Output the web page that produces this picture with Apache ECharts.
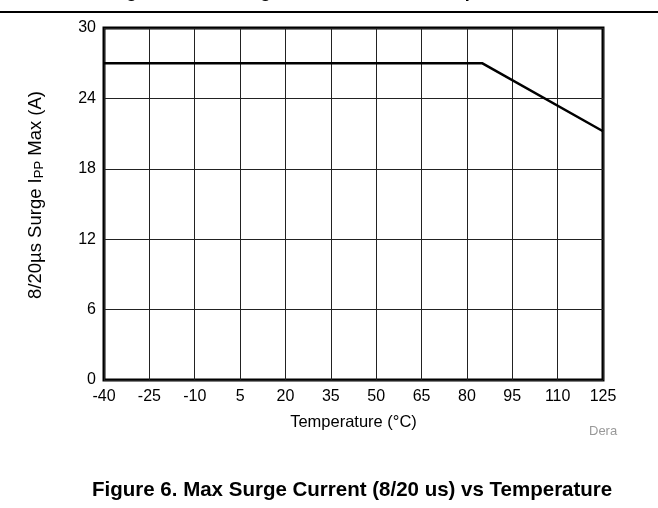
<!DOCTYPE html>
<html>
<head>
<meta charset="utf-8">
<script src="https://cdn.jsdelivr.net/npm/echarts@6/dist/echarts.min.js"></script>
<style>
  html, body { margin: 0; padding: 0; background: #fff; }
  #chart { width: 658px; height: 508px; }
</style>
</head>
<body>
<div id="chart"></div>
<script>
// temperature ticks (°C) and surge current curve
const xTicks = [-40, -25, -10, 5, 20, 35, 50, 65, 80, 95, 110, 125];
const tempPoints = [-40, 85, 125];
const surgeCurrent = [27, 27, 21.2];
const topCaption = 'Figure 5. Max Surge Current Limit vs Temperature';
const bottomCaption = 'Figure 6. Max Surge Current (8/20 us) vs Temperature';

const font = 'Liberation Sans, Arial, sans-serif';
const chart = echarts.init(document.getElementById('chart'));

const option = {
  animation: false,
  backgroundColor: '#fff',
  grid: {
    left: 104, right: 55, top: 28, bottom: 128,
    show: true,
    borderColor: '#000',
    borderWidth: 3
  },
  xAxis: {
    type: 'value',
    min: -40,
    max: 125,
    name: 'Temperature (°C)',
    nameLocation: 'middle',
    nameGap: 34,
    nameTextStyle: { fontFamily: font, fontSize: 16.5, color: '#000' },
    axisLine: { show: false },
    axisTick: { show: false, customValues: xTicks },
    axisLabel: {
      customValues: xTicks,
      margin: 9,
      fontFamily: font, fontSize: 16, color: '#000'
    },
    splitLine: { show: true, lineStyle: { color: '#222', width: 1 } }
  },
  yAxis: {
    type: 'value',
    min: 0,
    max: 30,
    interval: 6,
    name: '8/20µs Surge I{sub|PP} Max (A)',
    nameLocation: 'middle',
    nameGap: 58,
    nameTextStyle: {
      fontFamily: font, fontSize: 18.5, color: '#000',
      padding: [0, 0, 0, 18],
      rich: {
        sub: { fontFamily: font, fontSize: 13, color: '#000', verticalAlign: 'bottom', padding: [7, 0, 0, 0] }
      }
    },
    axisLine: { show: false },
    axisTick: { show: false },
    axisLabel: { margin: 8, fontFamily: font, fontSize: 16, color: '#000' },
    splitLine: { show: true, lineStyle: { color: '#222', width: 1 } }
  },
  series: [{
    type: 'line',
    data: tempPoints.map((t, i) => [t, surgeCurrent[i]]),
    showSymbol: false,
    lineStyle: { color: '#000', width: 2.5 },
    z: 5
  }],
  graphic: [
    {
      type: 'text', x: 110, y: 1,
      style: { text: topCaption, font: 'bold 18px ' + font, fill: '#000', verticalAlign: 'bottom' }
    },
    {
      type: 'line',
      shape: { x1: 0, y1: 12, x2: 658, y2: 12 },
      style: { stroke: '#000', lineWidth: 2 }
    },
    {
      type: 'text', left: 589, top: 425,
      style: { text: 'Dera', font: '13px ' + font, fill: '#999' }
    },
    {
      type: 'text', left: 92, top: 480,
      style: { text: bottomCaption, font: 'bold 20.5px ' + font, fill: '#000' }
    }
  ]
};

chart.setOption(option);
</script>
</body>
</html>
